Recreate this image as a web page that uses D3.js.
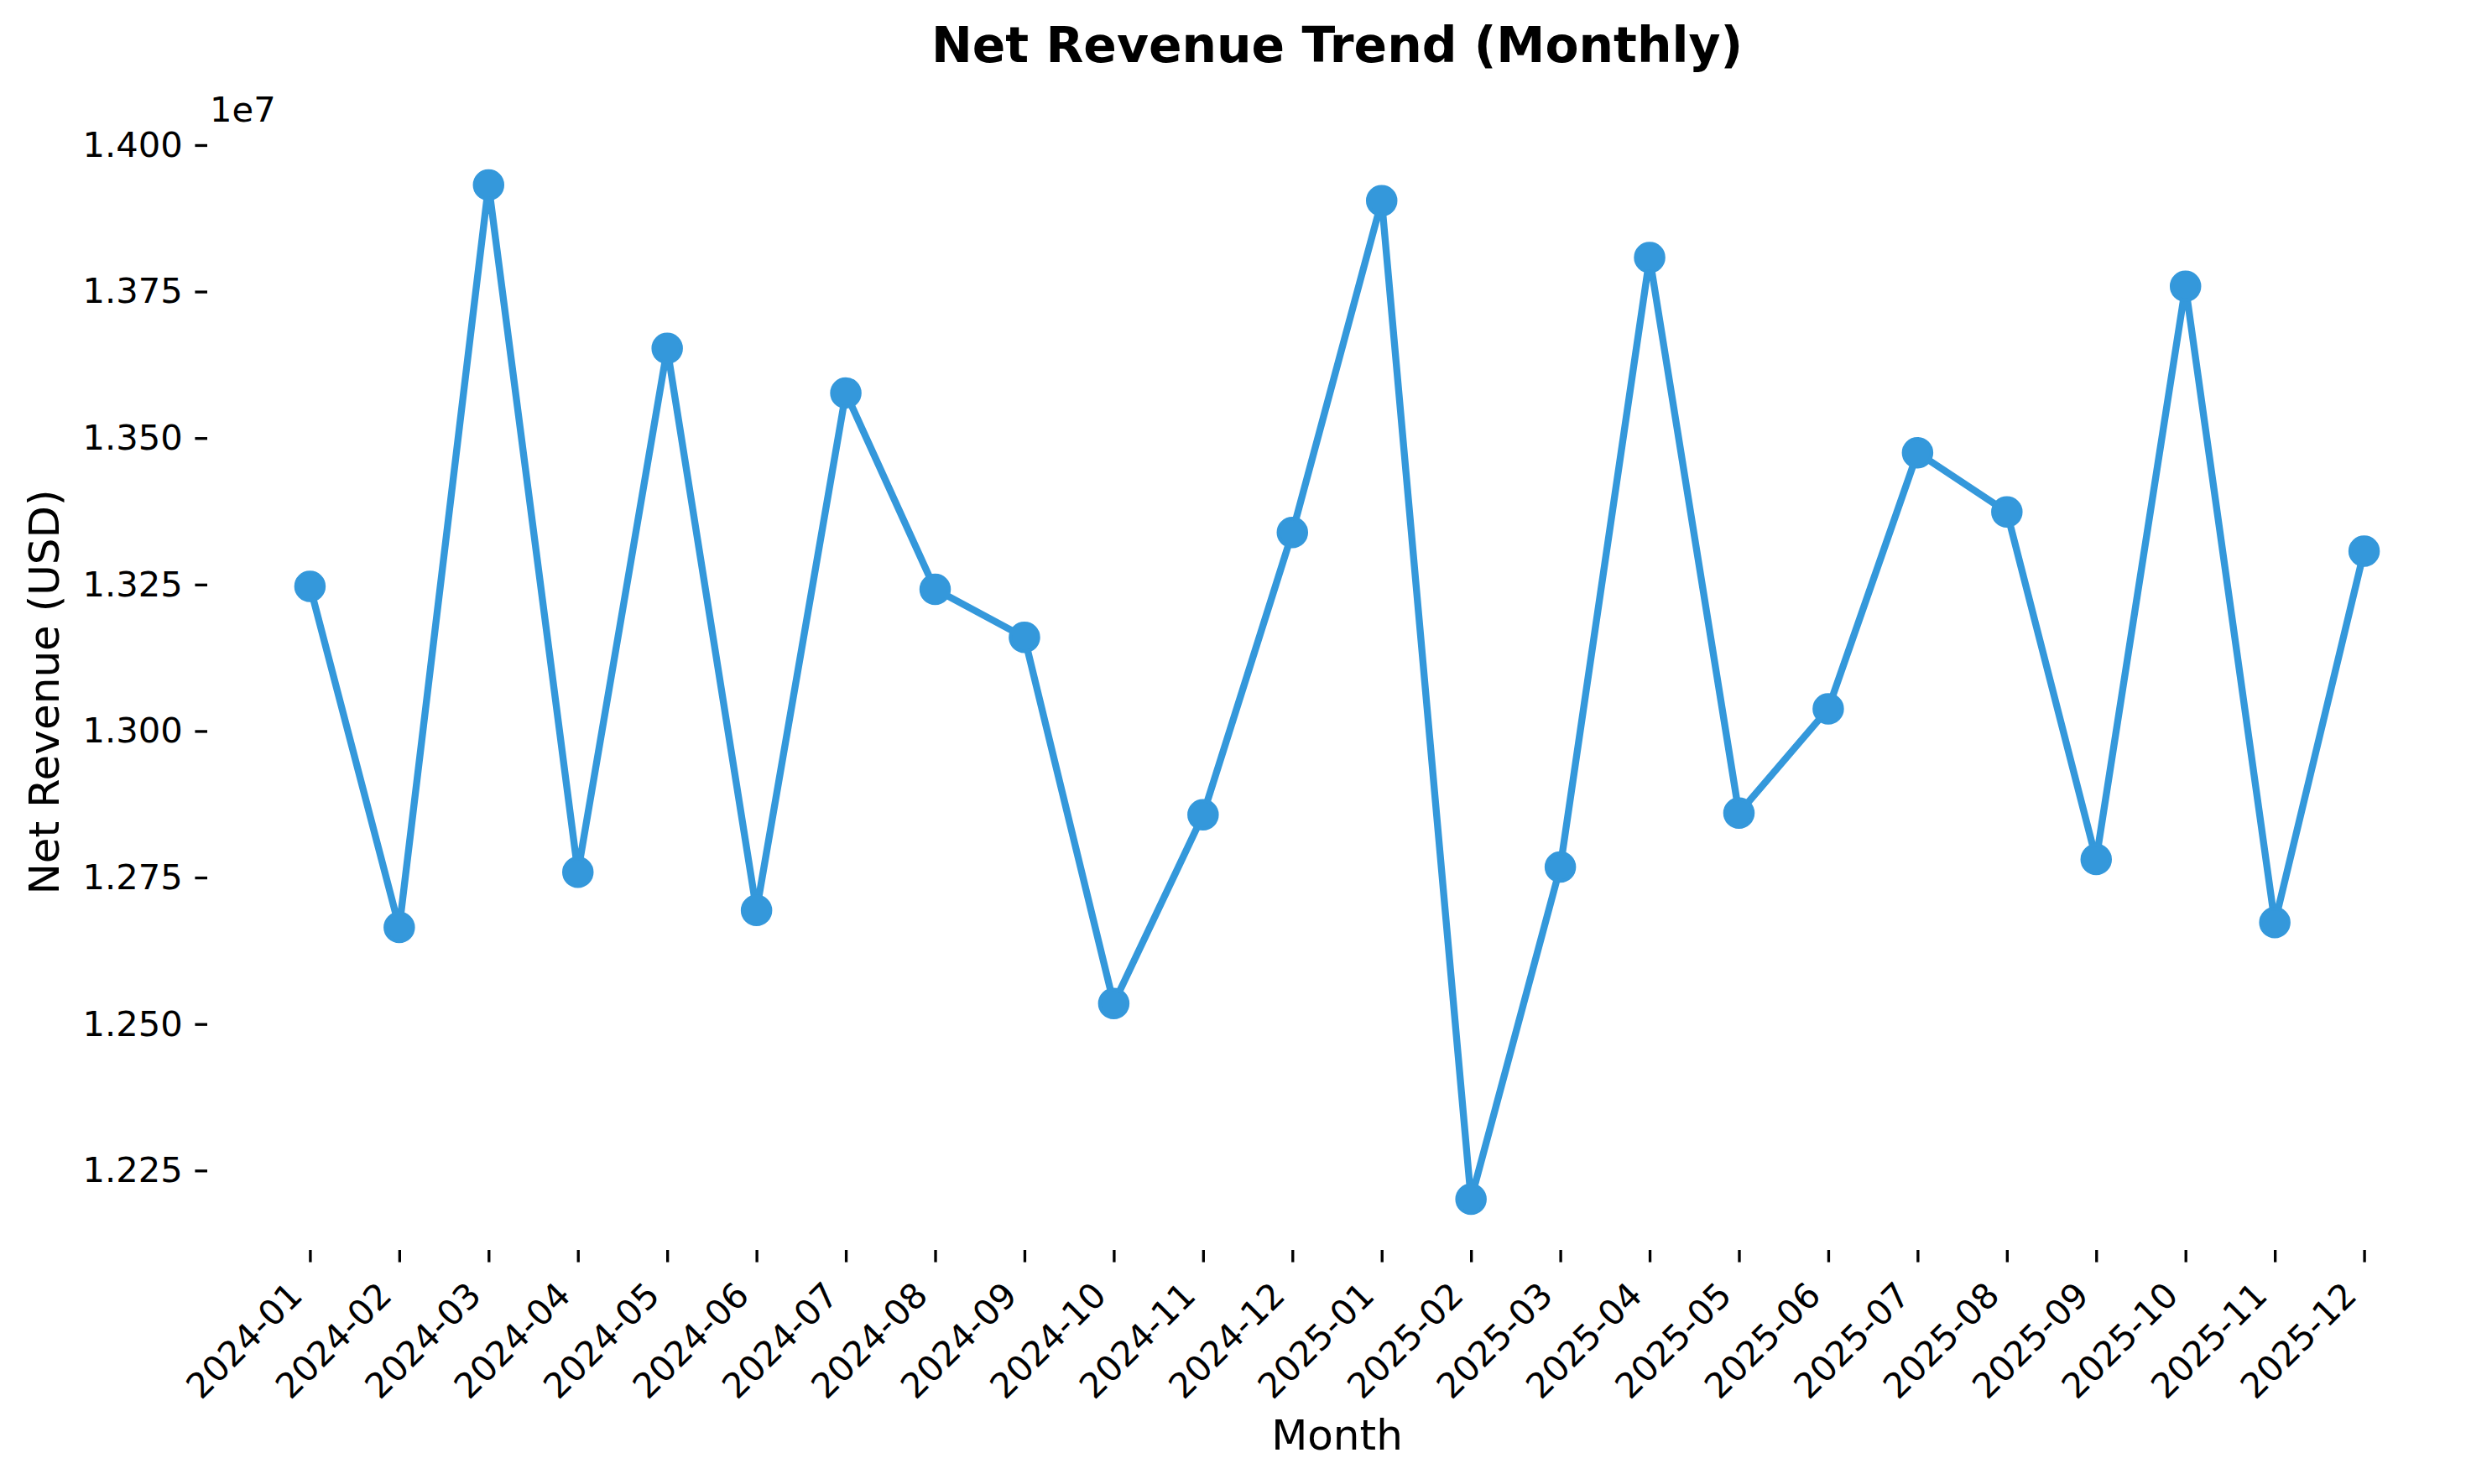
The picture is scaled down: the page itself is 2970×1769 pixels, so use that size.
<!DOCTYPE html>
<html>
<head>
<meta charset="utf-8">
<script src="https://cdn.jsdelivr.net/npm/d3@7"></script>
<style>
  body { margin: 0; background: #fff; }
  text { font-family: "DejaVu Sans", sans-serif; fill: #000; }
</style>
</head>
<body>
<div id="chart"></div>
<script>
// monthly net revenue (USD)
const months = ["2024-01","2024-02","2024-03","2024-04","2024-05","2024-06",
                "2024-07","2024-08","2024-09","2024-10","2024-11","2024-12",
                "2025-01","2025-02","2025-03","2025-04","2025-05","2025-06",
                "2025-07","2025-08","2025-09","2025-10","2025-11","2025-12"];
const revenue = [13247000, 12665000, 13932000, 12759000, 13653000, 12694000,
                 13577000, 13242000, 13160000, 12535000, 12857000, 13339000,
                 13905000, 12201000, 12768000, 13808000, 12860000, 13038000,
                 13475000, 13374000, 12781000, 13759000, 12673000, 13307000];
const yTicks = [12250000, 12500000, 12750000, 13000000, 13250000, 13500000, 13750000, 14000000];

const W = 2970, H = 1769;
const margin = { top: 160, right: 30, bottom: 279, left: 247 };
const width = W - margin.left - margin.right;
const height = H - margin.top - margin.bottom;
const pt = 300 / 72;           // figure was 300 dpi
const color = "#3498db";

const svg = d3.select("#chart").append("svg")
    .attr("width", W)
    .attr("height", H);

const g = svg.append("g")
    .attr("transform", "translate(" + margin.left + "," + margin.top + ")");

// matplotlib style 5% padding on both axes
const n = months.length;
const x = d3.scaleLinear()
    .domain([-0.05 * (n - 1), (n - 1) * 1.05])
    .range([0, width]);

const [lo, hi] = d3.extent(revenue);
const pad = (hi - lo) * 0.05;
const y = d3.scaleLinear()
    .domain([lo - pad, hi + pad])
    .range([height, 0]);

const tickLen = 3.5 * pt, tickPad = 3.5 * pt, fs = 10 * pt;

// y axis
const yAxis = g.append("g")
    .call(d3.axisLeft(y).tickValues(yTicks)
        .tickSize(tickLen).tickPadding(tickPad)
        .tickFormat(d => (d / 1e7).toFixed(3)));
yAxis.select(".domain").remove();
yAxis.selectAll("line").attr("stroke", "#000").attr("stroke-width", 0.8 * pt);
yAxis.selectAll("text")
    .style("font-size", fs + "px")
    .style("font-family", "DejaVu Sans");

// x axis
const xAxis = g.append("g")
    .attr("transform", "translate(0," + height + ")")
    .call(d3.axisBottom(x).tickValues(d3.range(n))
        .tickSize(tickLen).tickFormat(i => months[i]));
xAxis.select(".domain").remove();
xAxis.selectAll("line").attr("stroke", "#000").attr("stroke-width", 0.8 * pt);
const asc = 0.93 * fs, desc = 0.24 * fs;
xAxis.selectAll("text")
    .style("font-size", fs + "px")
    .style("font-family", "DejaVu Sans")
    .attr("y", 0).attr("dy", null)
    .attr("text-anchor", "end")
    .attr("transform", "translate(" + (-desc / Math.SQRT2) + "," + (tickLen + tickPad + asc / Math.SQRT2) + ") rotate(-45)");

// offset text
g.append("text")
    .attr("x", 3)
    .attr("y", -15)
    .style("font-size", fs + "px")
    .text("1e7");

// line + markers
const line = d3.line()
    .x((d, i) => x(i))
    .y(d => y(d));

g.append("path")
    .datum(revenue)
    .attr("fill", "none")
    .attr("stroke", color)
    .attr("stroke-width", 2 * pt)
    .attr("stroke-linejoin", "round")
    .attr("d", line);

g.selectAll(".dot")
    .data(revenue)
    .join("circle")
    .attr("class", "dot")
    .attr("cx", (d, i) => x(i))
    .attr("cy", d => y(d))
    .attr("r", 4 * pt)
    .attr("fill", color)
    .attr("stroke", color)
    .attr("stroke-width", 1 * pt);

// title and labels
svg.append("text")
    .attr("x", margin.left + width / 2)
    .attr("y", 74)
    .attr("text-anchor", "middle")
    .style("font-size", 14 * pt + "px")
    .style("font-weight", "bold")
    .text("Net Revenue Trend (Monthly)");

svg.append("text")
    .attr("x", margin.left + width / 2)
    .attr("y", 1728)
    .attr("text-anchor", "middle")
    .style("font-size", 12 * pt + "px")
    .text("Month");

svg.append("text")
    .attr("transform", "translate(70," + (margin.top + height / 2) + ") rotate(-90)")
    .attr("text-anchor", "middle")
    .style("font-size", 12 * pt + "px")
    .text("Net Revenue (USD)");
</script>
</body>
</html>
